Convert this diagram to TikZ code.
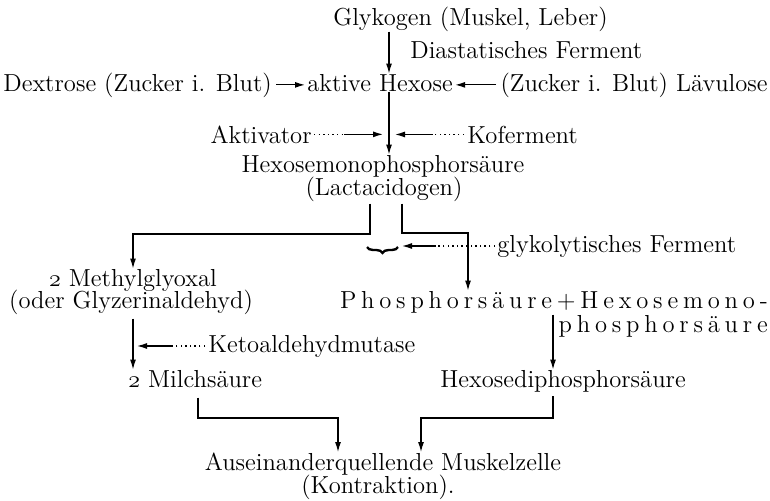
\documentclass[tikz,border=0pt]{standalone}
\usetikzlibrary{arrows.meta,decorations.pathreplacing}

\newcommand{\txtsize}{\fontsize{12.3}{11.5}\selectfont}
\newcommand{\osnum}[1]{{\usefont{OML}{cmm}{m}{it}#1}}
\makeatletter
\def\gesperrt#1{\gesperrt@#1\@nil}
\def\gesperrt@#1{\ifx#1\@nil\else#1\kern2.4pt\expandafter\gesperrt@\fi}
\makeatother

\tikzset{
  lbl/.style={inner sep=0pt, font=\txtsize},
  ln/.style={line width=0.6pt},
  arr/.style={line width=0.6pt, -{Latex[length=5pt,width=3pt]}},
  dotline/.style={line width=0.7pt, dash pattern=on 0.7pt off 1.6pt},
  klammer/.style={line width=1.2pt, decorate, decoration={brace, mirror, amplitude=3pt}}
}

\begin{document}
\begin{tikzpicture}[x=0.5pt,y=-0.5pt]
  \useasboundingbox (0,0) rectangle (770,500);

  \node[lbl, anchor=base west] (gly) at (333,25) {Glykogen (Muskel, Leber)};
  \node[lbl, anchor=base west] (dia) at (410,58) {Diastatisches Ferment};
  \node[lbl, anchor=base west] (dex) at (3,91) {Dextrose (Zucker i. Blut)};
  \node[lbl, anchor=base west] (hex) at (307,91) {aktive Hexose};
  \node[lbl, anchor=base east] (lae) at (768,91) {(Zucker i. Blut) Lävulose};
  \node[lbl, anchor=base east] (akt) at (312,143) {Aktivator};
  \node[lbl, anchor=base west] (kof) at (467,143) {Koferment};
  \node[lbl, anchor=base] (hms) at (383,172) {Hexosemonophosphorsäure};
  \node[lbl, anchor=base] (lac) at (384,195) {(Lactacidogen)};
  \node[lbl, anchor=base west] (gf) at (497,252) {glykolytisches Ferment};
  \node[lbl, anchor=base] (mgl) at (133,286) {\osnum{2} Methylglyoxal};
  \node[lbl, anchor=base] (glz) at (131,308) {(oder Glyzerinaldehyd)};
  \node[lbl, anchor=base east] (pho) at (773,308) {\gesperrt{Phosphorsäure+Hexosemono-}};
  \node[lbl, anchor=base east] (phs) at (773,332) {\gesperrt{phosphorsäure}};
  \node[lbl, anchor=base west] (kam) at (208,352) {Ketoaldehydmutase};
  \node[lbl, anchor=base west] (mil) at (128,387) {\osnum{2} Milchsäure};
  \node[lbl, anchor=base west] (hdp) at (440,387) {Hexosediphosphorsäure};
  \node[lbl, anchor=base] (aus) at (383,470) {Auseinanderquellende Muskelzelle};
  \node[lbl, anchor=base] (kon) at (378,493) {(Kontraktion).};

  \coordinate (ax) at (389,0);
  \coordinate (lv) at (133,0);
  \coordinate (hk) at (553,0);
  \coordinate (lk) at (370,234);
  \coordinate (rk) at (402,233);
  \coordinate (pk) at (468,233);
  \coordinate (b1) at (367,247);
  \coordinate (b2) at (398,247);
  \coordinate (ml) at (198,418);
  \coordinate (aL) at (338,418);
  \coordinate (mr) at (553,418);
  \coordinate (aR) at (421,418);

  \draw[arr] (gly.south -| ax) -- (hex.north -| ax);
  \draw[arr, shorten <=2pt, shorten >=1pt] (dex.east) -- (dex.east -| hex.west);
  \draw[arr, shorten <=2pt, shorten >=1pt] (lae.west) -- (lae.west -| hex.east);
  \draw[arr] (hex.south -| ax) -- (hms.north -| ax);

  \draw[dotline] ([xshift=1pt]akt.east) -- ([xshift=16pt]akt.east);
  \draw[arr, shorten >=3pt] ([xshift=16pt]akt.east) -- (akt.east -| ax);
  \draw[dotline] ([xshift=-1.5pt]kof.west) -- ([xshift=-17pt]kof.west);
  \draw[arr, shorten >=3pt] ([xshift=-17pt]kof.west) -- (kof.west -| ax);

  \draw[arr] ([yshift=-1pt]lac.south -| lk) -- (lk) -| (mgl.north -| lv);
  \draw[arr] ([yshift=-1pt]lac.south -| rk) -- (rk) -- (pk) -- (pk |- pho.north);
  \draw[klammer] (b1) -- (b2);
  \draw[dotline] ([xshift=-1pt]gf.west) -- ([xshift=-31pt]gf.west);
  \draw[arr, shorten >=2pt] ([xshift=-31pt]gf.west) -- (b2 |- gf.west);

  \draw[arr] ([yshift=-2pt]glz.south -| lv) -- (mil.north -| lv);
  \draw[dotline] ([xshift=-1.5pt]kam.west) -- ([xshift=-18pt]kam.west);
  \draw[arr, shorten >=2pt] ([xshift=-18pt]kam.west) -- (kam.west -| lv);
  \draw[arr] (phs.north -| hk) -- (hdp.north -| hk);

  \draw[arr] ([yshift=-5pt]mil.south -| ml) -- (ml) -- (aL) -- (aL |- aus.north);
  \draw[arr] ([yshift=-2pt]hdp.south -| mr) -- (mr) -- (aR) -- (aR |- aus.north);
\end{tikzpicture}
\end{document}
